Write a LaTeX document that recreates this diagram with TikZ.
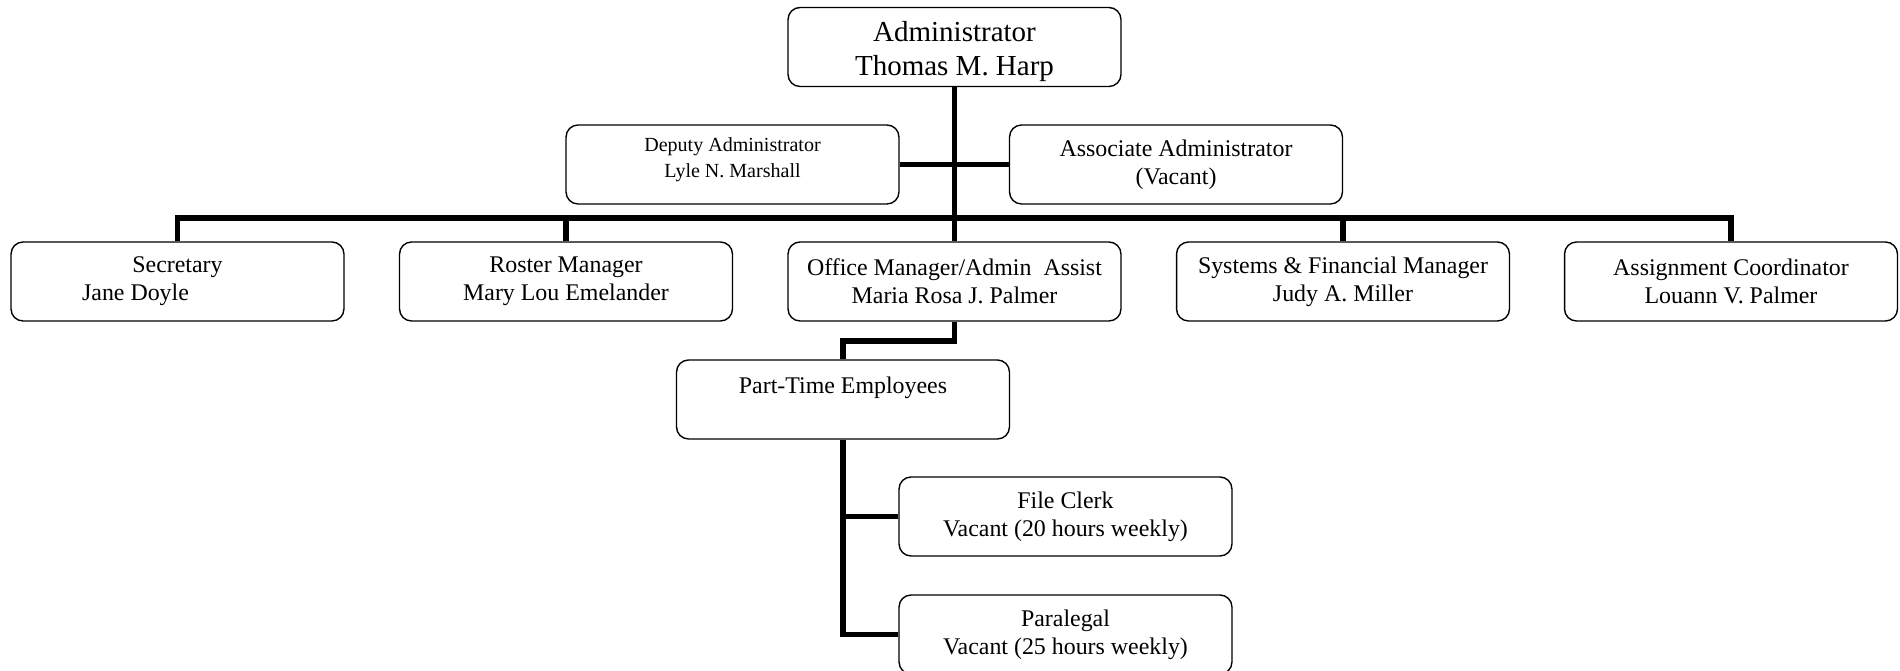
\documentclass[tikz,border=0pt]{standalone}
\usepackage{fontspec}
\setmainfont{Liberation Serif}

\tikzset{
    posbox/.style={draw, line width=0.8pt, rounded corners=0.24cm, inner sep=0pt,
        minimum width=6.66cm, minimum height=1.58cm, align=center,
        font=\fontsize{13.6}{15.9}\selectfont},
    link/.style={line width=3.4pt, line join=miter}
}

\begin{document}
\begin{tikzpicture}[x=0.02cm, y=-0.02cm]

    % Fix the page to the size of the chart
    \useasboundingbox (0,0) rectangle (1900,671);

    % Top of the chart
    \node[posbox, font=\fontsize{16.5}{19.3}\selectfont] (admin) at (954.5,47) {\rule{0pt}{17pt}Administrator\\Thomas M. Harp};

    % The two posts beside the trunk
    \node[posbox, font=\fontsize{11.4}{14.8}\selectfont] (deputy) at (732.5,164.5) {Deputy Administrator\\Lyle N. Marshall\\[-6.5pt]\mbox{}};
    \node[posbox] (assoc) at (1176,164.5) {Associate Administrator\\(Vacant)};

    % The row of staff under the bar
    \node[posbox] (sec) at (177.5,281.5) {Secretary\\Jane Doyle\hspace*{1.68cm}};
    \node[posbox] (roster) at (566,281.5) {Roster Manager\\Mary Lou Emelander};
    \node[posbox] (office) at (954.5,281.5) {Office Manager/Admin\ \ Assist\\Maria Rosa J. Palmer};
    \node[posbox] (systems) at (1343,281.5) {Systems \& Financial Manager\\Judy A. Miller};
    \node[posbox] (assign) at (1731,281.5) {Assignment Coordinator\\Louann V. Palmer};

    % Part-time staff
    \node[posbox] (part) at (843,399.5) {Part-Time Employees\\\mbox{}};
    \node[posbox] (clerk) at (1065.5,516.5) {File Clerk\\Vacant (20 hours weekly)};
    \node[posbox] (para) at (1065.5,634.5) {Paralegal\\Vacant (25 hours weekly)};

    % Bar joining the row of staff
    \coordinate (bus) at (954.5,218);

    % Draw the trunk and the side link
    \draw[link] (admin.south) -- (office.north);
    \draw[link] (deputy.east) -- (assoc.west);

    % Draw the bar and the drops to each box
    \draw[link] (sec.north) |- (bus) -| (assign.north);
    \foreach \n in {roster,systems}
        \draw[link] (\n.north) -- (\n.north |- bus);

    % Draw the links down to the part-time staff
    \draw[link] (office.south) -- ++(0,19) -| (part.north);
    \draw[link] (part.south) |- (clerk.west);
    \draw[link] (part.south) |- (para.west);

\end{tikzpicture}
\end{document}
